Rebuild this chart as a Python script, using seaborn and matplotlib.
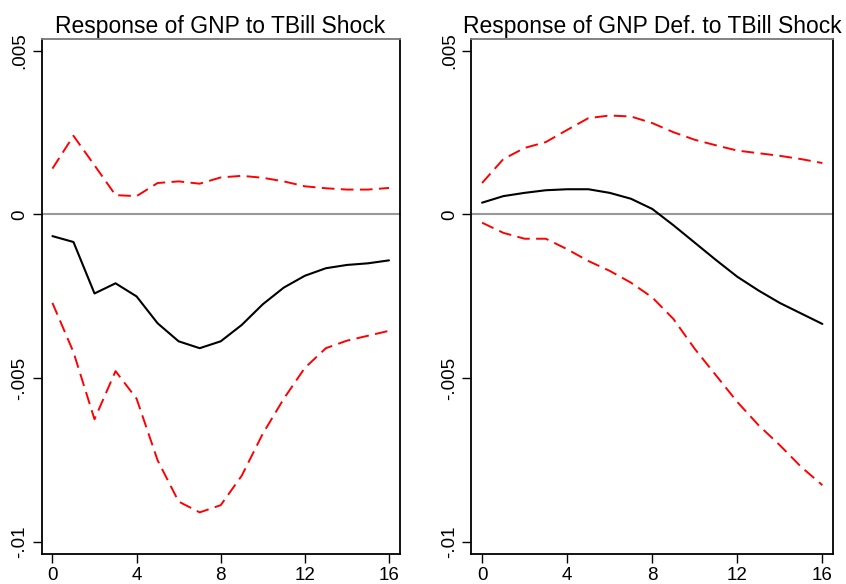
import matplotlib
matplotlib.use("Agg")
import matplotlib.pyplot as plt
import seaborn as sns
import numpy as np
import pandas as pd

sns.set_theme(style="white")
plt.rcParams['font.family'] = ['Liberation Sans', 'DejaVu Sans']

steps = list(range(17))

# Left panel: Response of GNP to TBill Shock
gnp_irf = [-0.00066, -0.00084, -0.00241, -0.00210, -0.00250, -0.00332, -0.00387, -0.00408,
           -0.00387, -0.00337, -0.00274, -0.00223, -0.00187, -0.00164, -0.00154, -0.00149, -0.00140]
gnp_upper = [0.00140, 0.00240, 0.00150, 0.00059, 0.00056, 0.00096, 0.00101, 0.00094,
             0.00113, 0.00118, 0.00112, 0.00101, 0.00086, 0.00080, 0.00076, 0.00076, 0.00081]
gnp_lower = [-0.00270, -0.00420, -0.00625, -0.00478, -0.00562, -0.00750, -0.00876, -0.00909,
             -0.00887, -0.00797, -0.00669, -0.00562, -0.00468, -0.00408, -0.00385, -0.00370, -0.00355]

# Right panel: Response of GNP Def. to TBill Shock
def_irf = [0.00036, 0.00056, 0.00066, 0.00074, 0.00077, 0.00077, 0.00066, 0.00048,
           0.00017, -0.00033, -0.00086, -0.00139, -0.00190, -0.00232, -0.00270, -0.00302, -0.00334]
def_upper = [0.00096, 0.00169, 0.00203, 0.00221, 0.00258, 0.00294, 0.00302, 0.00299,
             0.00279, 0.00251, 0.00228, 0.00211, 0.00195, 0.00187, 0.00179, 0.00169, 0.00157]
def_lower = [-0.00025, -0.00056, -0.00074, -0.00074, -0.00106, -0.00142, -0.00172, -0.00208,
             -0.00253, -0.00319, -0.00410, -0.00491, -0.00572, -0.00643, -0.00704, -0.00770, -0.00826]

titles = ["Response of GNP to TBill Shock", "Response of GNP Def. to TBill Shock"]
x_ticks = [0, 4, 8, 12, 16]
y_ticks = [0.005, 0.0, -0.005, -0.01]
y_tick_labels = [".005", "0", "-.005", "-.01"]

panels = [(gnp_irf, gnp_upper, gnp_lower), (def_irf, def_upper, def_lower)]

fig = plt.figure(figsize=(8.46, 5.84), dpi=100)
positions = [[41.5 / 846, 1 - 554 / 584, (399.5 - 41.5) / 846, (554 - 38.5) / 584],
             [471 / 846, 1 - 554 / 584, (833 - 471) / 846, (554 - 38.5) / 584]]

for pos, title, (irf, up, lo) in zip(positions, titles, panels):
    ax = fig.add_axes(pos)
    df = pd.DataFrame({"step": steps, "irf": irf, "upper": up, "lower": lo})
    ax.axhline(0, color="#999999", lw=1.5, zorder=1, clip_on=False)
    sns.lineplot(data=df, x="step", y="upper", ax=ax, color="#ff0000", lw=1.4,
                 linestyle=(0, (6.5, 3.3)), zorder=3)
    sns.lineplot(data=df, x="step", y="lower", ax=ax, color="#ff0000", lw=1.4,
                 linestyle=(0, (6.5, 3.3)), zorder=3)
    sns.lineplot(data=df, x="step", y="irf", ax=ax, color="black", lw=1.5, zorder=4)
    ax.set_xlim(-0.52, 16.5)
    ax.set_ylim(-0.01036, 0.00537)
    ax.set_xticks(x_ticks)
    ax.set_xticklabels([str(t) for t in x_ticks])
    ax.set_yticks(y_ticks)
    ax.set_yticklabels(y_tick_labels, rotation=90, va="center")
    ax.set_xlabel("")
    ax.set_ylabel("")
    ax.tick_params(axis="both", which="both", direction="out", length=6.5, width=1,
                   color="black", labelsize=13.5, labelcolor="black", pad=3,
                   left=True, bottom=True)
    for side in ["left", "bottom", "right"]:
        ax.spines[side].set_color("black")
        ax.spines[side].set_linewidth(1.3)
        ax.spines[side].set_visible(True)
    ax.spines["top"].set_color("#777777")
    ax.spines["top"].set_linewidth(1.3)
    ax.spines["top"].set_visible(True)
    ax.set_title(title, fontsize=16.5, color="black", pad=3)
    ax.grid(False)

fig.savefig("out.png", dpi=100)
